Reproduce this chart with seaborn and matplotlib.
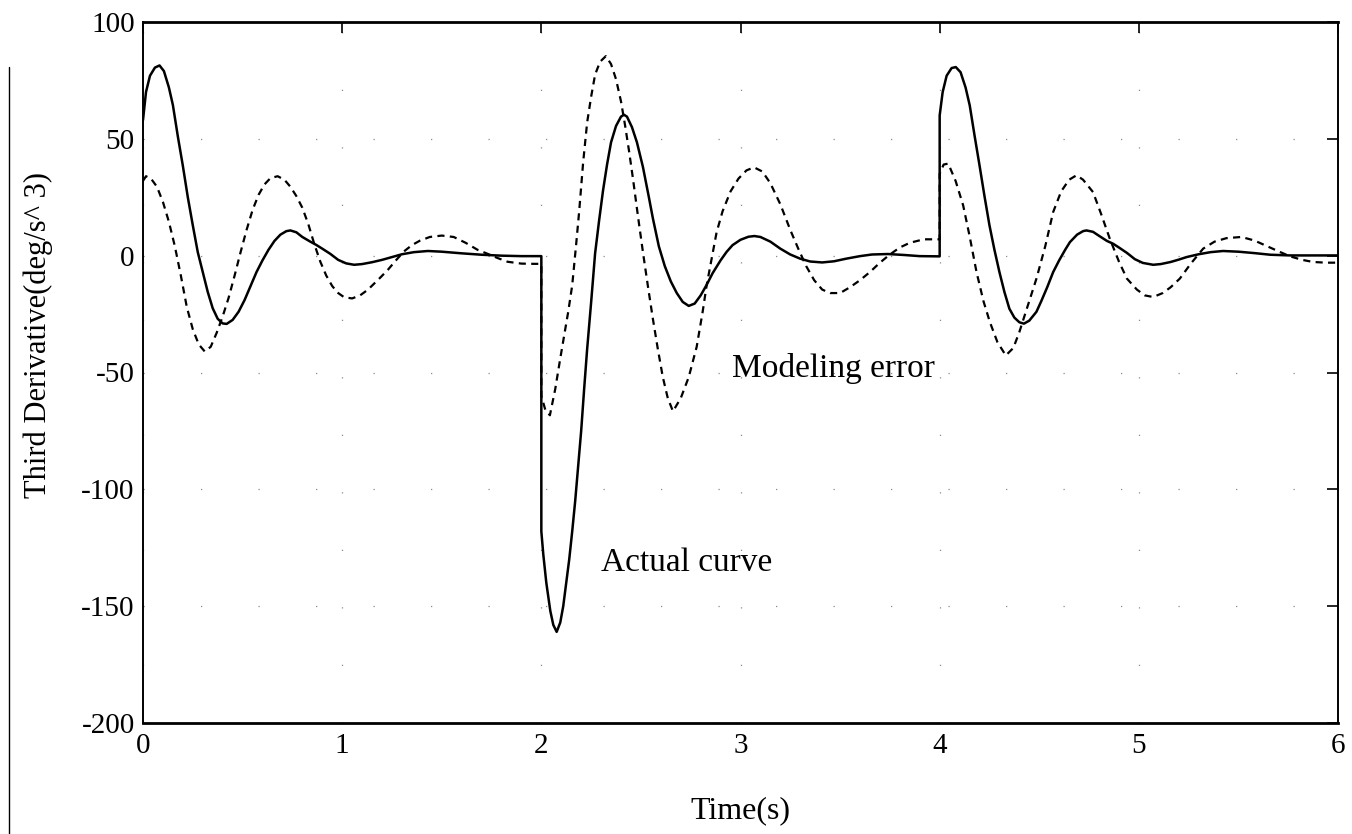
import numpy as np
import pandas as pd
import matplotlib
matplotlib.use("Agg")
import matplotlib.pyplot as plt
from matplotlib.lines import Line2D
import seaborn as sns

# actual curve (solid)
t_actual = [0.000, 0.015, 0.035, 0.060, 0.083, 0.105, 0.130, 0.150, 0.175, 0.200,
            0.225, 0.250, 0.275, 0.300, 0.325, 0.350, 0.375, 0.400, 0.420, 0.450,
            0.480, 0.510, 0.540, 0.570, 0.600, 0.630, 0.660, 0.690, 0.720, 0.740,
            0.770, 0.800, 0.840, 0.870, 0.900, 0.940, 0.980, 1.020, 1.060, 1.100,
            1.150, 1.200, 1.250, 1.300, 1.360, 1.430, 1.500, 1.600, 1.700, 1.800,
            1.900, 2.000,
            2.000, 2.010, 2.025, 2.045, 2.060, 2.077, 2.095, 2.110, 2.125, 2.140,
            2.155, 2.170, 2.185, 2.200, 2.215, 2.230, 2.250, 2.270, 2.290, 2.310,
            2.330, 2.350, 2.375, 2.400, 2.415, 2.430, 2.455, 2.480, 2.510, 2.540,
            2.560, 2.590, 2.620, 2.650, 2.680, 2.710, 2.740, 2.770, 2.800, 2.830,
            2.860, 2.900, 2.930, 2.960, 3.000, 3.040, 3.070, 3.100, 3.150, 3.200,
            3.250, 3.300, 3.350, 3.410, 3.470, 3.530, 3.600, 3.660, 3.740, 3.820,
            3.900, 4.000,
            4.000, 4.015, 4.035, 4.060, 4.081, 4.105, 4.130, 4.151, 4.175, 4.200,
            4.225, 4.250, 4.275, 4.300, 4.325, 4.350, 4.375, 4.400, 4.423, 4.450,
            4.486, 4.510, 4.540, 4.570, 4.600, 4.630, 4.654, 4.690, 4.720, 4.737,
            4.770, 4.800, 4.840, 4.871, 4.900, 4.940, 4.980, 5.020, 5.072, 5.110,
            5.160, 5.200, 5.240, 5.300, 5.360, 5.423, 5.500, 5.580, 5.660, 5.760,
            5.880, 6.000]
v_actual = [58, 70, 77, 80.5, 81.4, 79, 72, 64.5, 51, 38.5,
            25, 13, 1.5, -7, -15.5, -22.5, -27, -29, -29.2, -27.5,
            -24, -19, -13, -7, -2, 2.5, 6.3, 9, 10.5, 10.8,
            10, 8, 6, 4.6, 3, 0.8, -1.8, -3.3, -3.9, -3.6,
            -2.8, -1.8, -0.6, 0.6, 1.5, 2, 1.7, 1, 0.4, 0,
            -0.2, -0.2,
            -118, -128, -140, -152, -158, -161, -157, -150, -140, -130,
            -118, -105, -90, -75, -57, -40, -20, 1, 15, 28,
            39, 48.5, 55.5, 59.5, 60.3, 59.5, 55, 48.5, 38, 25,
            16, 4, -4.5, -11, -16, -19.8, -21.5, -20.5, -17, -12.5,
            -7.5, -2, 1.6, 4.5, 6.8, 8.1, 8.4, 8, 6, 3,
            0.5, -1.3, -2.5, -2.9, -2.4, -1.3, -0.2, 0.5, 0.7, 0.3,
            -0.2, -0.3,
            60, 70, 77, 80.3, 80.7, 78.5, 72, 64.3, 51.5, 38.7,
            25.5, 13, 2.5, -7, -15.5, -22.7, -26.5, -28.5, -29.1, -27.8,
            -24, -19.5, -13.5, -7, -2, 2.5, 5.8, 9, 10.5, 10.8,
            10.2, 8.5, 6.3, 5.1, 3.5, 1.2, -1.5, -3.1, -3.9, -3.6,
            -2.7, -1.7, -0.6, 0.6, 1.5, 2.0, 1.7, 1.1, 0.4, 0.1,
            0.1, 0.1]

# modeling error (dashed)
t_model = [0.000, 0.015, 0.040, 0.070, 0.100, 0.130, 0.160, 0.190, 0.220, 0.250,
           0.280, 0.310, 0.340, 0.370, 0.400, 0.430, 0.460, 0.490, 0.520, 0.550,
           0.580, 0.610, 0.640, 0.676, 0.710, 0.740, 0.770, 0.800, 0.830, 0.860,
           0.890, 0.920, 0.950, 0.980, 1.010, 1.050, 1.090, 1.130, 1.160, 1.190,
           1.230, 1.270, 1.310, 1.350, 1.390, 1.440, 1.500, 1.560, 1.620, 1.680,
           1.730, 1.780, 1.830, 1.900, 1.960, 2.000,
           2.000, 2.020, 2.043, 2.070, 2.095, 2.115, 2.135, 2.155, 2.175, 2.190,
           2.210, 2.230, 2.250, 2.270, 2.295, 2.324, 2.350, 2.375, 2.400, 2.420,
           2.440, 2.460, 2.485, 2.510, 2.535, 2.560, 2.585, 2.610, 2.635, 2.661,
           2.700, 2.740, 2.780, 2.810, 2.830, 2.860, 2.880, 2.910, 2.950, 2.990,
           3.030, 3.068, 3.110, 3.150, 3.200, 3.250, 3.290, 3.330, 3.370, 3.410,
           3.450, 3.500, 3.550, 3.600, 3.650, 3.700, 3.750, 3.800, 3.850, 3.920,
           4.000,
           4.000, 4.020, 4.043, 4.080, 4.118, 4.150, 4.185, 4.220, 4.252, 4.290,
           4.332, 4.370, 4.400, 4.440, 4.486, 4.530, 4.570, 4.610, 4.650, 4.687,
           4.720, 4.770, 4.810, 4.854, 4.900, 4.940, 4.990, 5.030, 5.072, 5.120,
           5.160, 5.206, 5.260, 5.323, 5.380, 5.440, 5.515, 5.580, 5.650, 5.708,
           5.760, 5.820, 5.875, 5.940, 6.000]
v_model = [32, 34, 33, 29.5, 23, 14.5, 4, -8.5, -22, -31.5,
           -38, -41, -39, -33, -26, -18, -8.5, 1.5, 11, 19.5,
           26, 30.5, 33.2, 34, 32.5, 29.5, 25.5, 20.5, 13.5, 5,
           -2.5, -8.5, -13, -16, -17.8, -18.3, -17, -14.5, -12, -9.5,
           -6, -2, 1.8, 4.5, 6.4, 8, 8.6, 8, 5.5, 2.5,
           0.8, -1, -2.6, -3.4, -3.5, -3.5,
           -60, -66, -68.3, -57, -44, -34, -24, -12.7, 5, 19,
           40, 57, 68, 77.5, 83, 85.4, 82, 75.5, 66, 56,
           45, 33, 17, 1.6, -13, -27, -40, -52, -61, -66.6,
           -61, -52, -39, -24, -12.7, 1, 10, 19, 27.5, 33,
           36.5, 37.8, 36, 31, 22, 11, 3, -4.5, -10.5, -14.5,
           -16, -16, -13.5, -10.5, -7, -3, 0.5, 3.5, 5.5, 7,
           7,
           35, 39, 39.4, 32, 21.5, 8.5, -7, -19.5, -28.4, -37,
           -42.7, -39.5, -32.7, -22, -9.8, 4, 18.7, 27.5, 32.5, 34.4,
           32.5, 27.2, 18, 7.3, -2.5, -9.8, -14.5, -17, -17.7, -16,
           -13.5, -9.8, -3.5, 3, 6, 7.5, 8, 6.5, 3.8, 1.6,
           -0.3, -1.8, -2.7, -3, -3]

x_ticks = [0, 1, 2, 3, 4, 5, 6]
y_ticks = [100, 50, 0, -50, -100, -150, -200]

df_actual = pd.DataFrame({"t": t_actual, "v": v_actual})
df_model = pd.DataFrame({"t": t_model, "v": v_model})

sns.set_style("white")
plt.rcParams["font.family"] = ["Liberation Serif", "DejaVu Serif"]
plt.rcParams["axes.unicode_minus"] = False
plt.rcParams["text.color"] = "black"
plt.rcParams["axes.labelcolor"] = "black"

fig = plt.figure(figsize=(13.52, 8.34), dpi=100)
ax = fig.add_axes([143 / 1352, 1 - 723 / 834, (1338 - 143) / 1352, (723 - 22) / 834])

sns.lineplot(data=df_model, x="t", y="v", estimator=None, sort=False,
             color="black", linewidth=1.6, ax=ax)
ax.lines[-1].set_dashes((3.2, 2.4))
sns.lineplot(data=df_actual, x="t", y="v", estimator=None, sort=False,
             color="black", linewidth=1.8, ax=ax)

ax.set_xlim(0, 6)
ax.set_ylim(-200, 100)
ax.set_xticks(x_ticks)
ax.set_yticks(y_ticks)
ax.set_xticklabels([str(x) for x in x_ticks])
ax.set_yticklabels([str(y) for y in y_ticks])

# faint, sparse dotted grid (most of it is lost in the scan)
ax.grid(True, color="0.55", linewidth=0.9, linestyle=(0, (1, 45)))
ax.tick_params(direction="in", length=8, width=1.2, top=True, right=True,
               labelsize=21, colors="black")
ax.tick_params(axis="x", pad=7)
ax.tick_params(axis="y", pad=6)
for side in ["top", "bottom"]:
    ax.spines[side].set_linewidth(2.0)
for side in ["left", "right"]:
    ax.spines[side].set_linewidth(1.4)
for s in ax.spines.values():
    s.set_color("black")

ax.set_xlabel("Time(s)", fontsize=23)
ax.set_ylabel("Third Derivative(deg/s^ 3)", fontsize=22)
ax.xaxis.set_label_coords(0.5, -0.105)
ax.yaxis.set_label_coords(-0.075, 0.553)

ax.text(2.30, -135, "Actual curve", fontsize=24, ha="left", va="baseline")
ax.text(2.955, -52, "Modeling error", fontsize=24, ha="left", va="baseline")

# scan border on the left edge
fig.add_artist(Line2D([9 / 1352, 9 / 1352], [0, 1 - 67 / 834], color="black",
                      linewidth=1.0, transform=fig.transFigure))

fig.savefig("out.png", dpi=100)
